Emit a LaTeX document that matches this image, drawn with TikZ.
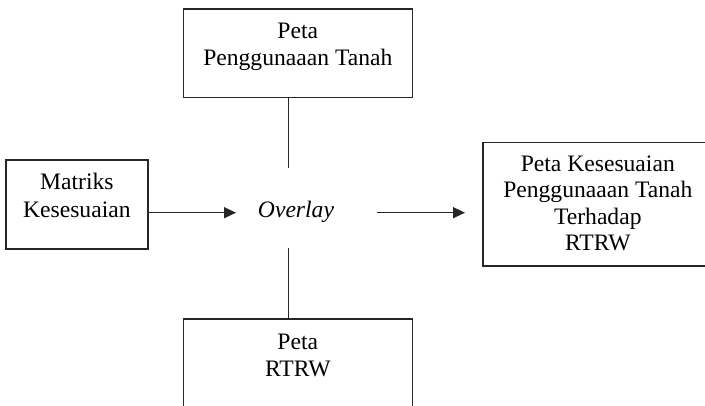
\documentclass[tikz,border=0pt]{standalone}
\usepackage{fontspec}
\setmainfont{Liberation Serif}
\usetikzlibrary{arrows.meta}
\begin{document}
\begin{tikzpicture}[x=1pt,y=-1pt,
  box/.style={draw, line width=1.6pt, draw=black!85, inner sep=0pt, outer sep=0pt},
  lbl/.style={font=\fontsize{23.6}{27}\selectfont, anchor=base, inner sep=0pt},
  lblit/.style={lbl, font=\fontsize{23.6}{27}\selectfont\itshape},
  conn/.style={line width=1.5pt, draw=black!85},
  arr/.style={conn, -{Triangle[length=12pt,width=11pt]}}]
\clip (0,0) rectangle (705,406);
% boxes
\node[box, minimum width=229pt, minimum height=88.3pt] (topbox) at (297.8,53.3) {};
\node[box, minimum width=141.7pt, minimum height=89pt] (leftbox) at (76.85,204.5) {};
\node[box, minimum width=230.2pt, minimum height=123.3pt] (rightbox) at (597.8,204.35) {};
\node[box, minimum width=229pt, minimum height=100pt] (botbox) at (297.8,369.3) {};
% texts
\node[lbl] (t1) at (297.8,39) {Peta};
\node[lbl] (t2) at (297.8,66) {Penggunaaan Tanah};
\node[lbl] (l1) at (76.85,189.3) {Matriks};
\node[lbl] (l2) at (76.85,217.6) {Kesesuaian};
\node[lbl] (r1) at (597.8,171.5) {Peta Kesesuaian};
\node[lbl] (r2) at (597.8,198) {Penggunaaan Tanah};
\node[lbl] (r3) at (597.8,224.5) {Terhadap};
\node[lbl] (r4) at (597.8,251) {RTRW};
\node[lbl] (b1) at (297.8,349.5) {Peta};
\node[lbl] (b2) at (297.8,376.5) {RTRW};
\node[lblit] (overlay) at (296,217.5) {Overlay};
% connectors
\coordinate (vt) at (288.4,168);
\coordinate (vb) at (288.4,248.5);
\draw[conn] (topbox.south -| vt) -- (vt);
\draw[conn] (vb) -- (vb |- botbox.north);
\coordinate (al) at (236,212.7);
\draw[arr] (leftbox.east |- al) -- (al);
\coordinate (ar1) at (376.7,212.7);
\coordinate (ar2) at (465,212.7);
\draw[arr] (ar1) -- (ar2);
\end{tikzpicture}
\end{document}
